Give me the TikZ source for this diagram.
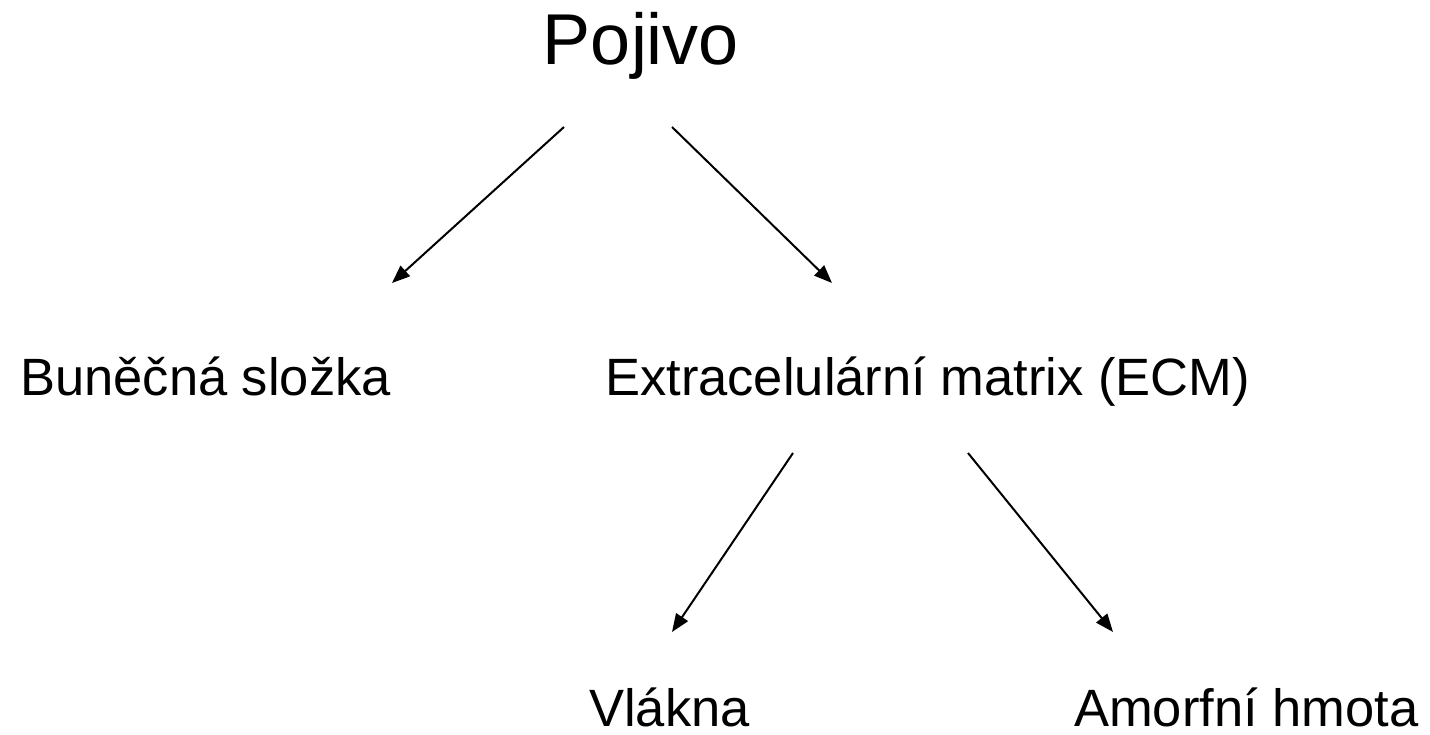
\documentclass[tikz,border=0pt]{standalone}
\usepackage{fontspec}
\setmainfont{Liberation Sans}
\usetikzlibrary{arrows.meta}
\tikzset{
  lbl/.style={anchor=base west, inner sep=0pt, font=\fontsize{52.5}{60}\selectfont},
  title/.style={anchor=base, inner sep=0pt, font=\fontsize{72}{80}\selectfont},
  conn/.style={line width=2pt, -{Triangle[length=18pt,width=14pt]}}
}
\begin{document}
\begin{tikzpicture}[x=1pt,y=1pt]
\useasboundingbox (0,0) rectangle (1430,-735);
\node[title] (pojivo) at (641,-65) {Pojivo};
\node[lbl] (bun) at (20,-395) {Buněčná složka};
\node[lbl] (ecm) at (605,-395) {Extracelulární matrix (ECM)};
\node[lbl] (vl) at (589,-726) {Vlákna};
\node[lbl] (am) at (1074,-726) {Amorfní hmota};
\coordinate (a1s) at (564,-127);
\coordinate (a1e) at (392,-283);
\coordinate (a2s) at (672,-127);
\coordinate (a2e) at (832,-283);
\coordinate (a3s) at (793,-453);
\coordinate (a3e) at (672,-632);
\coordinate (a4s) at (968,-453);
\coordinate (a4e) at (1113,-632);
\draw[conn] (a1s) -- (a1e);
\draw[conn] (a2s) -- (a2e);
\draw[conn] (a3s) -- (a3e);
\draw[conn] (a4s) -- (a4e);
\end{tikzpicture}
\end{document}
